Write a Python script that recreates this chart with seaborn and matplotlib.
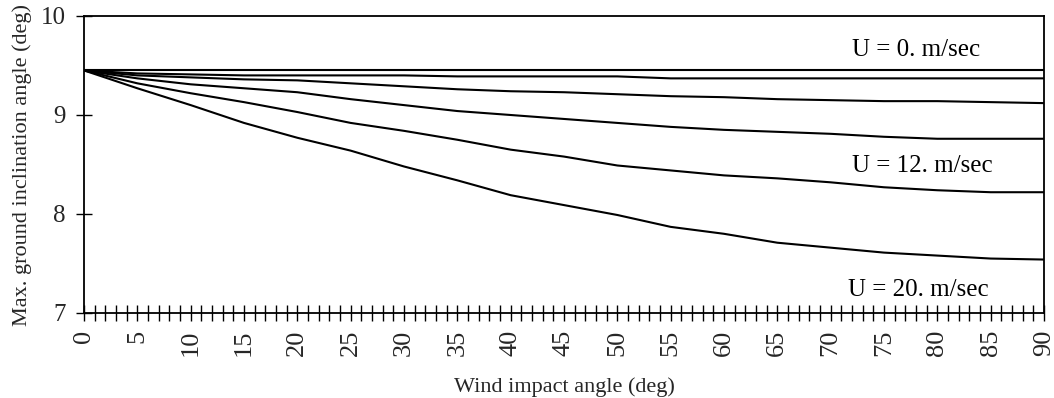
import matplotlib
matplotlib.use("Agg")
import matplotlib.pyplot as plt
from matplotlib.ticker import MultipleLocator
import seaborn as sns
import pandas as pd

angles = [0, 5, 10, 15, 20, 25, 30, 35, 40, 45, 50, 55, 60, 65, 70, 75, 80, 85, 90]
u0 = [9.45] * 19
u4 = [9.45, 9.42, 9.41, 9.40, 9.40, 9.40, 9.40, 9.39, 9.39, 9.39, 9.39, 9.37, 9.37, 9.37, 9.37, 9.37, 9.37, 9.37, 9.37]
u8 = [9.45, 9.40, 9.38, 9.36, 9.35, 9.32, 9.29, 9.26, 9.24, 9.23, 9.21, 9.19, 9.18, 9.16, 9.15, 9.14, 9.14, 9.13, 9.12]
u12 = [9.45, 9.37, 9.31, 9.27, 9.23, 9.16, 9.10, 9.04, 9.00, 8.96, 8.92, 8.88, 8.85, 8.83, 8.81, 8.78, 8.76, 8.76, 8.76]
u16 = [9.45, 9.32, 9.22, 9.13, 9.03, 8.92, 8.84, 8.75, 8.65, 8.58, 8.49, 8.44, 8.39, 8.36, 8.32, 8.27, 8.24, 8.22, 8.22]
u20 = [9.45, 9.27, 9.10, 8.92, 8.77, 8.64, 8.48, 8.34, 8.19, 8.09, 7.99, 7.87, 7.80, 7.71, 7.66, 7.61, 7.58, 7.55, 7.54]
speeds = [0, 4, 8, 12, 16, 20]
series = [u0, u4, u8, u12, u16, u20]

labels = ["U = 0. m/sec", "U = 12. m/sec", "U = 20. m/sec"]
label_x = [72.0, 72.0, 71.6]
label_y = [9.66, 8.48, 7.23]

rows = []
for s, vals in zip(speeds, series):
    for a, v in zip(angles, vals):
        rows.append({"angle": a, "incl": v, "U": s})
df = pd.DataFrame(rows)

sns.set_style("white")
plt.rcParams['font.family'] = ['Liberation Serif', 'DejaVu Serif']

fig = plt.figure(figsize=(10.54, 3.98), dpi=100)
ax = fig.add_axes([84/1054, 1 - 313/398, (1044-84)/1054, (313-16)/398])

sns.lineplot(data=df, x="angle", y="incl", hue="U", palette=["black"] * 6,
             legend=False, ax=ax, linewidth=1.5)

ax.set_xlim(0, 90)
ax.set_ylim(7, 10)
ax.xaxis.set_major_locator(MultipleLocator(5))
ax.xaxis.set_minor_locator(MultipleLocator(1))
ax.yaxis.set_major_locator(MultipleLocator(1))
ax.yaxis.set_minor_locator(plt.NullLocator())
ax.tick_params(axis='x', which='both', bottom=True, top=False, direction='inout',
               length=12.2, width=1.0, color='black')
ax.tick_params(axis='x', which='major', labelsize=19, pad=6, labelrotation=90)
ax.tick_params(axis='y', which='major', left=True, right=False, direction='inout',
               length=12.2, width=1.0, color='black', labelsize=18, pad=7)
for sp in ax.spines.values():
    sp.set_visible(True)
    sp.set_color('black')
    sp.set_linewidth(1.3)
    sp.set_zorder(3)

ax.set_xlabel("Wind impact angle (deg)", fontsize=16, labelpad=15)
ax.set_ylabel("Max. ground inclination angle (deg)", fontsize=16, labelpad=6)

for t, x, y in zip(labels, label_x, label_y):
    ax.text(x, y, t, fontsize=18, ha='left', va='center', color='black')

fig.savefig("out.png", dpi=100)
